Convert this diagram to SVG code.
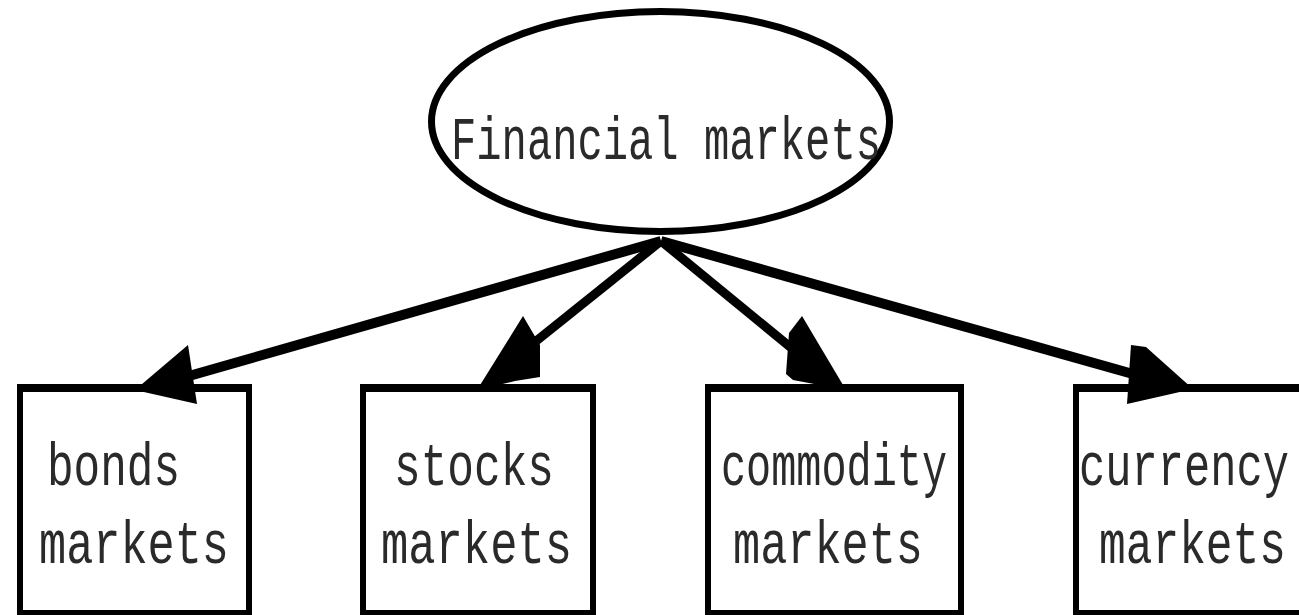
<svg xmlns="http://www.w3.org/2000/svg" width="1299" height="615" viewBox="0 0 1299 615">
  <style>
    .bg { fill: #ffffff; }
    .frame { fill: #000000; fill-rule: evenodd; }
    .oval { fill: none; stroke: #000000; stroke-width: 7; }
    .label { font-family: "Liberation Mono", "Courier New", monospace; font-size: 62px; fill: #2a2a2a; }
    .edge { stroke: #000000; fill: none; stroke-linecap: butt; }
    .edge.flat { stroke-width: 10; }
    .edge.steep { stroke-width: 9; }
    .head { fill: #000000; }
  </style>
  <rect class="bg" x="0" y="0" width="1299" height="615"/>

  <!-- root node -->
  <g id="node-financial">
    <ellipse class="oval" cx="660.5" cy="121.5" rx="229" ry="110"/>
    <text class="label" x="451" y="159" textLength="430" lengthAdjust="spacingAndGlyphs">Financial markets</text>
  </g>

  <!-- connectors: shafts from the bottom of the oval, filled heads at each box -->
  <g id="connectors">
    <line class="edge flat" x1="661" y1="241" x2="182" y2="378"/>
    <polygon class="head" points="135,390 188,345 197,404"/>
    <line class="edge steep" x1="661" y1="241" x2="525" y2="350"/>
    <polygon class="head" points="477,390 523,316 540,345 540,377 515,381"/>
    <line class="edge steep" x1="661" y1="241" x2="800" y2="355"/>
    <polygon class="head" points="802,316 846,390 793,380 786,374 789,333"/>
    <line class="edge flat" x1="661" y1="241" x2="1140" y2="376"/>
    <polygon class="head" points="1131,345 1146,347 1193,389 1127,404"/>
  </g>

  <!-- leaf nodes -->
  <g id="node-bonds">
    <path class="frame" d="M17 384 H252 V616 H17 Z M23 392 V610 H246 V392 Z"/>
    <text class="label" x="47" y="485" textLength="133" lengthAdjust="spacingAndGlyphs">bonds</text>
    <text class="label" x="39" y="563" textLength="190" lengthAdjust="spacingAndGlyphs">markets</text>
  </g>

  <g id="node-stocks">
    <path class="frame" d="M360 384 H596 V616 H360 Z M366 392 V610 H590 V392 Z"/>
    <text class="label" x="394" y="485" textLength="160" lengthAdjust="spacingAndGlyphs">stocks</text>
    <text class="label" x="381" y="563" textLength="191" lengthAdjust="spacingAndGlyphs">markets</text>
  </g>

  <g id="node-commodity">
    <path class="frame" d="M705 384 H964 V616 H705 Z M711 392 V610 H958 V392 Z"/>
    <text class="label" x="721" y="485" textLength="226" lengthAdjust="spacingAndGlyphs">commodity</text>
    <text class="label" x="733" y="563" textLength="190" lengthAdjust="spacingAndGlyphs">markets</text>
  </g>

  <g id="node-currency">
    <path class="frame" d="M1073 384 H1310 V616 H1073 Z M1079 392 V610 H1304 V392 Z"/>
    <text class="label" x="1079" y="485" textLength="210" lengthAdjust="spacingAndGlyphs">currency</text>
    <text class="label" x="1099" y="563" textLength="187" lengthAdjust="spacingAndGlyphs">markets</text>
  </g>
</svg>
